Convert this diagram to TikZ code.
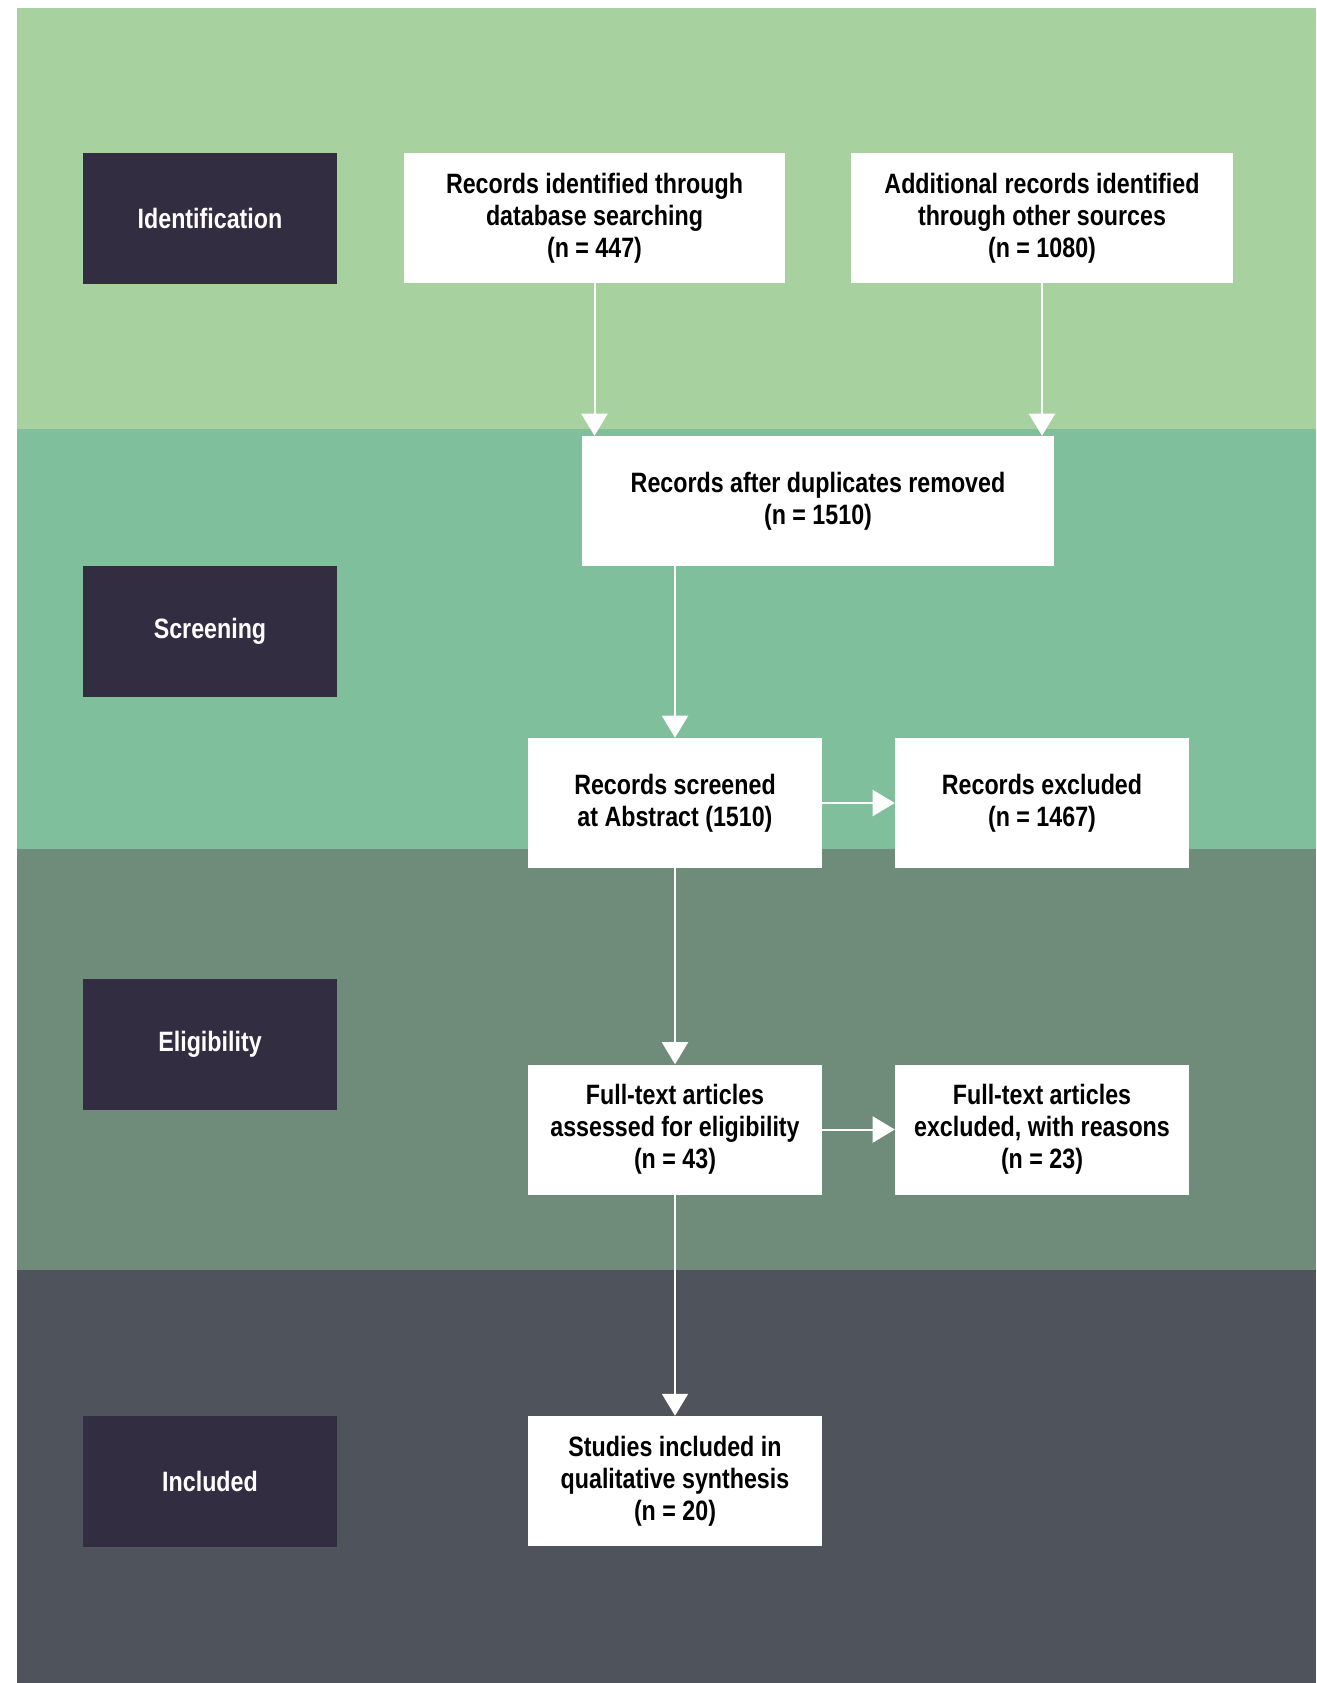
\documentclass[tikz,border=0pt]{standalone}
\usepackage{fontspec}
\setmainfont[FakeStretch=0.83]{Liberation Sans}
\usetikzlibrary{arrows.meta,positioning}
\definecolor{bandid}{HTML}{A7D2A0}
\definecolor{bandscr}{HTML}{7FBF9C}
\definecolor{bandelig}{HTML}{6F8C7A}
\definecolor{bandincl}{HTML}{4F535B}
\definecolor{stagedark}{HTML}{332D42}

\begin{document}
\begin{tikzpicture}[x=0.75pt,y=-0.75pt,>={Triangle[width=19.5pt,length=16.5pt]}]
  \tikzset{
  boxfont/.style = {font=\bfseries\fontsize{21}{24}\selectfont},
  stagebox/.style = {rectangle, boxfont, fill=stagedark, text=white,
    inner sep=0pt, minimum width=190.5pt, minimum height=98.25pt},% stage label
  recbox/.style = {rectangle, boxfont, fill=white, text=black, align=center,
    inner sep=0pt, minimum height=97.5pt},% record box
  flow/.style = {->, draw=white, line width=1.5pt}
}
\useasboundingbox (0,0) rectangle (1316,1683);

% background bands
\fill[bandid] (17,8) rectangle (1316,429);
\fill[bandscr] (17,429) rectangle (1316,849);
\fill[bandelig] (17,849) rectangle (1316,1270);
\fill[bandincl] (17,1270) rectangle (1316,1683);

% stage labels
\node [stagebox] (ident) at (210,218.5) {Identification};
\node [stagebox] (screen) at (210,631) {Screening};
\node [stagebox] (elig) at (210,1044) {Eligibility};
\node [stagebox] (incl) at (210,1481) {Included};

% records
\node [recbox, minimum width=285.75pt] (db) at (594.5,218)
  {Records identified through\\database searching\\(n = 447)};
\node [recbox, minimum width=286.5pt] (other) at (1042,218)
  {Additional records identified\\through other sources\\(n = 1080)};
\node [recbox, minimum width=354pt] (dup) at (818,501)
  {Records after duplicates removed\\(n = 1510)};
\node [recbox, minimum width=220.5pt] (scr) at (675,803)
  {Records screened\\at Abstract (1510)};
\node [recbox, minimum width=220.5pt] (excl) at (1042,803)
  {Records excluded\\(n = 1467)};
\node [recbox, minimum width=220.5pt] (ft) at (675,1129.5)
  {Full-text articles\\assessed for eligibility\\(n = 43)};
\node [recbox, minimum width=220.5pt] (ftexcl) at (1042,1129.5)
  {Full-text articles\\excluded, with reasons\\(n = 23)};
\node [recbox, minimum width=220.5pt] (study) at (675,1481)
  {Studies included in\\qualitative synthesis\\(n = 20)};

% connectors
\draw[flow] (db) -- (db |- dup.north);
\draw[flow] (other) -- (other |- dup.north);
\draw[flow] (scr |- dup.south) -- (scr);
\draw[flow] (scr) -- (excl);
\draw[flow] (scr) -- (ft);
\draw[flow] (ft) -- (ftexcl);
\draw[flow] (ft) -- (study);
\end{tikzpicture}
\end{document}
